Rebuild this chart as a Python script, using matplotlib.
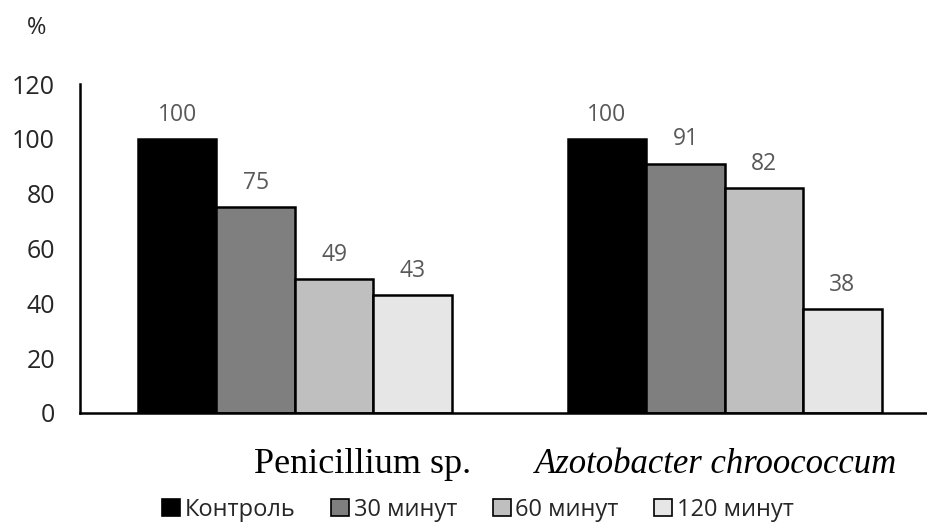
import matplotlib
matplotlib.use("Agg")
import matplotlib.pyplot as plt
import numpy as np
from matplotlib.patches import Patch

categories = ["Penicillium sp.", "Azotobacter chroococcum"]
series_names = ["Контроль", "30 минут", "60 минут", "120 минут"]
values = {
    "Контроль": [100, 100],
    "30 минут": [75, 91],
    "60 минут": [49, 82],
    "120 минут": [43, 38],
}
colors = ["#000000", "#7f7f7f", "#bfbfbf", "#e6e6e6"]
yticks = [0, 20, 40, 60, 80, 100, 120]

plt.rcParams['font.family'] = ['Open Sans', 'DejaVu Sans']

fig = plt.figure(figsize=(9.28, 5.24), dpi=100)
ax = fig.add_axes([80/928, 1-413/524, 1-80/928, (413-84)/524])

x = np.arange(len(categories))
w = 78.5/430
for i, name in enumerate(series_names):
    pos = x + (i - 1.5) * w
    bars = ax.bar(pos, values[name], width=w, color=colors[i],
                  edgecolor="black", linewidth=1.8, zorder=2)
    for b, v in zip(bars, values[name]):
        ax.annotate(str(v), (b.get_x() + b.get_width()/2, v),
                    xytext=(0, 13), textcoords="offset points",
                    ha="center", va="baseline", fontsize=16.5, color="#595959")

ax.set_xlim(-0.5, (928-294.5)/430)
ax.set_ylim(0, 120)
ax.set_yticks(yticks)
ax.set_yticklabels([str(t) for t in yticks], fontsize=18, color="#262626")
ax.tick_params(axis="y", length=0, pad=18)
ax.set_xticks([])
for s in ["top", "right"]:
    ax.spines[s].set_visible(False)
ax.spines["left"].set_linewidth(1.8)
ax.spines["bottom"].set_linewidth(1.8)

fig.text(37/928, 1-28/524, "%", fontsize=17, color="#262626", ha="center", va="center")

fig.text(363/928, 1-473/524, categories[0], fontsize=26,
         family=["Liberation Serif"], ha="center", va="baseline")
fig.text(716/928, 1-473/524, categories[1], fontsize=25, style="italic",
         family=["Liberation Serif"], ha="center", va="baseline")

handles = [Patch(facecolor=c, edgecolor="black", linewidth=1.2) for c in colors]
leg = fig.legend(handles, series_names, loc="center", bbox_to_anchor=(478/928, 1-510/524),
                 ncol=4, frameon=False, fontsize=17, handlelength=0.76, handleheight=0.76,
                 handletextpad=0.2, columnspacing=1.5, borderpad=0, borderaxespad=0)
for t in leg.get_texts():
    t.set_color("#262626")

fig.savefig("out.png", dpi=100)
